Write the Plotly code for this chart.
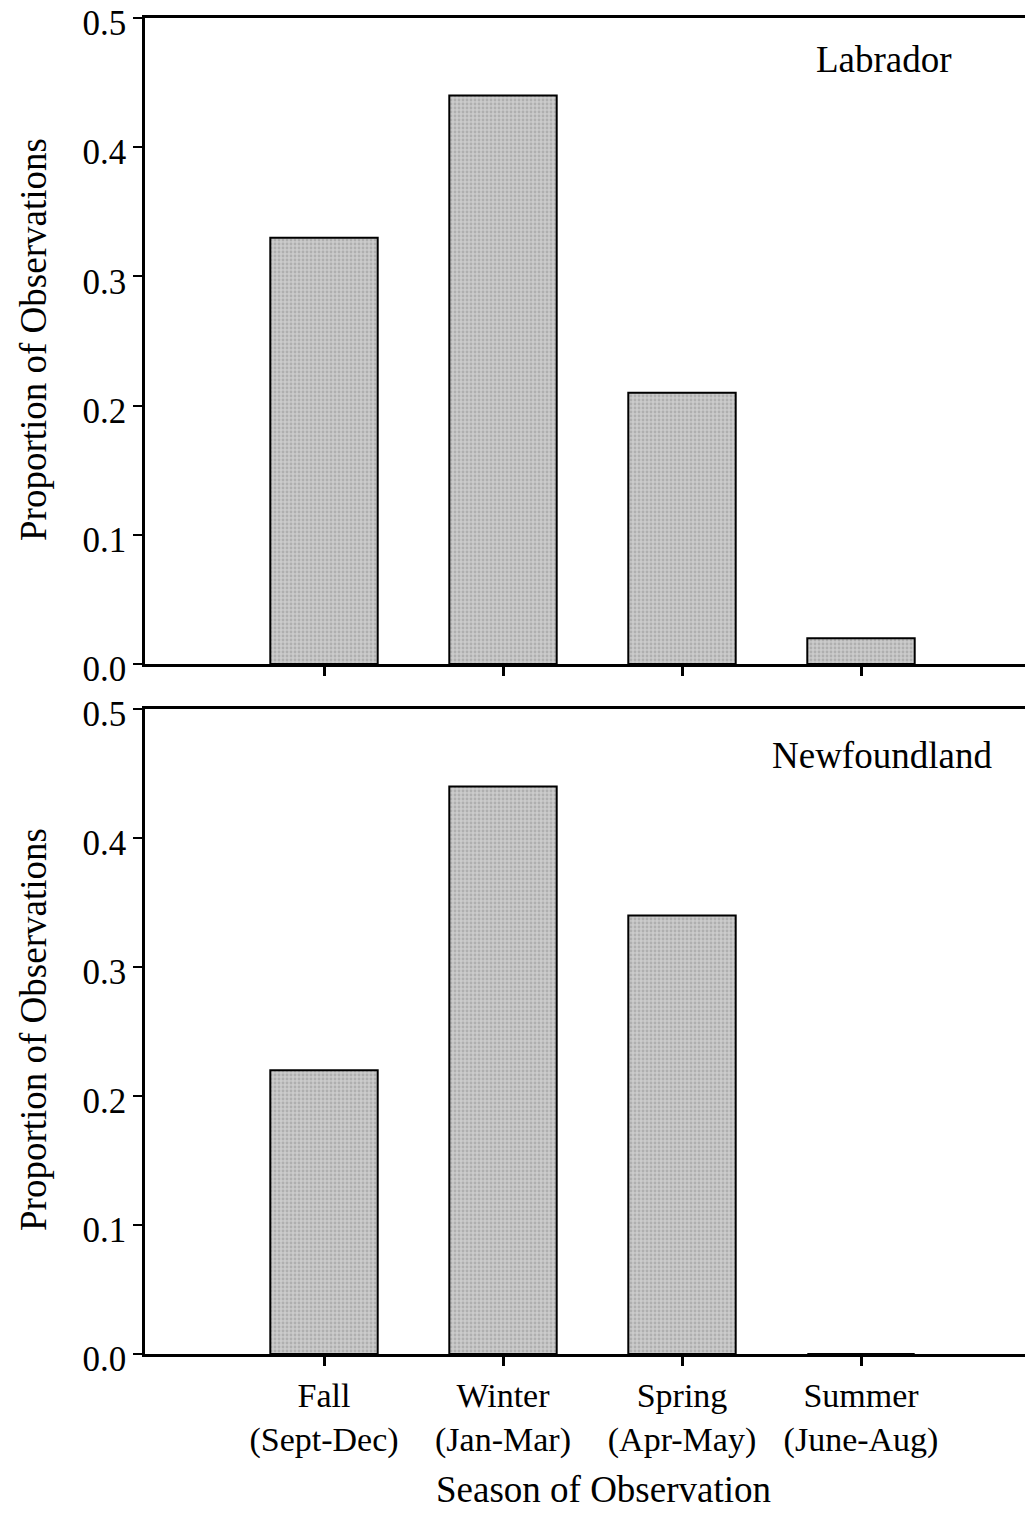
import plotly.graph_objects as go

seasons = ["Fall", "Winter", "Spring", "Summer"]
season_labels = ["Fall<br>(Sept-Dec)", "Winter<br>(Jan-Mar)", "Spring<br>(Apr-May)", "Summer<br>(June-Aug)"]
labrador = [0.33, 0.44, 0.21, 0.02]
newfoundland = [0.22, 0.44, 0.34, 0.0]
y_ticks = [0.0, 0.1, 0.2, 0.3, 0.4, 0.5]
y_ticktext = ["0.0", "0.1", "0.2", "0.3", "0.4", "0.5"]

OFF = 8  # page body margin
W, H = 1033 - OFF, 1516 - OFF
FONT = "Liberation Serif"

def px(x):
    return (x - OFF) / W

def py(y):
    return 1 - (y - OFF) / H

def bar(vals, xa, ya):
    return go.Bar(
        x=seasons, y=vals, xaxis=xa, yaxis=ya, width=0.6,
        marker=dict(color="#c0c0c0", line=dict(color="black", width=2),
                    pattern=dict(shape=".", size=4, solidity=0.4,
                                 fgcolor="#939393", bgcolor="#cbcbcb")),
        showlegend=False, hoverinfo="skip")

fig = go.Figure()
fig.add_trace(bar(labrador, "x", "y"))
fig.add_trace(bar(newfoundland, "x2", "y2"))

xdom = [px(145), 1.0]
top_dom = [py(664), py(18)]
bot_dom = [py(1354), py(709)]
# range chosen so that category spacing ~179 px
x_right = -1.0 + (W - (145 - OFF)) / 179.0

xcommon = dict(domain=xdom, range=[-1.0, x_right], showline=True, linecolor="black",
               linewidth=2.5, mirror=True, ticks="outside", ticklen=9, tickwidth=2.5,
               tickcolor="black", showgrid=False, zeroline=False, automargin=False,
               ticklabeloverflow="allow",
               tickvals=seasons, tickfont=dict(family=FONT, size=34, color="black"))
ycommon = dict(range=[0, 0.5], showline=True, linecolor="black", linewidth=2.5,
               ticks="outside", ticklen=9, tickwidth=2, tickcolor="black",
               showgrid=False, zeroline=False, automargin=False,
               ticklabeloverflow="allow", ticklabelshift=5,
               tickvals=y_ticks, ticktext=y_ticktext,
               tickfont=dict(family=FONT, size=35, color="black"))

tfont = dict(family=FONT, size=37, color="black")

def ann(text, x, y, angle=0):
    return dict(text=text, xref="paper", yref="paper", x=px(x), y=py(y),
                xanchor="center", yanchor="middle", textangle=angle,
                showarrow=False, font=tfont)

fig.update_layout(
    width=W, height=H, margin=dict(l=0, r=0, t=0, b=0, autoexpand=False),
    paper_bgcolor="white", plot_bgcolor="white",
    xaxis=dict(xcommon, anchor="y", ticktext=["", "", "", ""]),
    yaxis=dict(ycommon, domain=top_dom, anchor="x"),
    xaxis2=dict(xcommon, anchor="y2", ticktext=season_labels),
    yaxis2=dict(ycommon, domain=bot_dom, anchor="x2"),
    annotations=[
        ann("Labrador", 884, 60),
        ann("Newfoundland", 882, 755),
        ann("Proportion of Observations", 33, 340, -90),
        ann("Proportion of Observations", 33, 1030, -90),
        ann("Season of Observation", 603, 1489),
    ],
)

fig.write_html("out.html")
